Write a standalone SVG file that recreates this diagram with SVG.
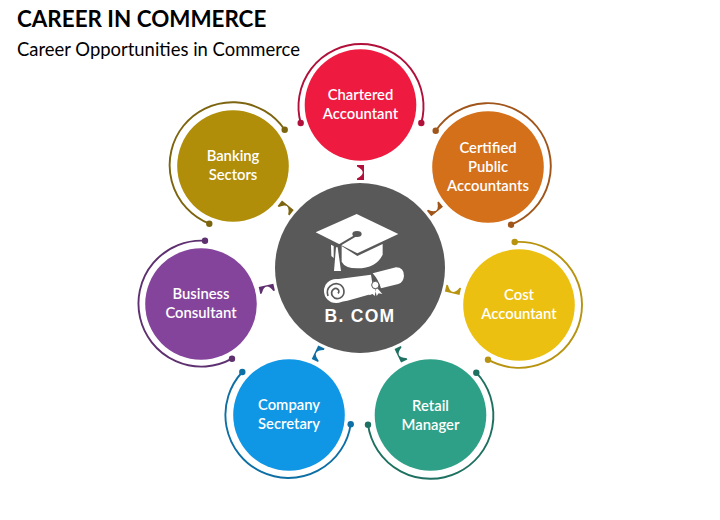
<svg xmlns="http://www.w3.org/2000/svg" width="720" height="520" viewBox="0 0 720 520">
<style>
text{font-family:"Lato","Carlito","Liberation Sans",sans-serif}
.l{font-size:14.8px;font-weight:600;fill:#fff;text-anchor:middle}
.a{fill:none;stroke-width:1.9}
.w{fill:#fff}
.d{fill:#595959}
</style>
<defs>
<path id="br" d="M-3.5,-7.5 L3.5,-7.5 L3.5,7.5 L-3.5,7.5 L-3.5,6 Q8,0 -3.5,-6 Z"/>
</defs>
<rect width="720" height="520" fill="#fff"/>
<text x="17" y="27" font-size="22.4" font-weight="700" fill="#000">CAREER IN COMMERCE</text>
<text x="17" y="56" font-size="18.45" fill="#000">Career Opportunities in Commerce</text>
<g id="connectors">
<use href="#br" transform="rotate(0 360 268) translate(360.5 172.5)" fill="#b0103a"/>
<use href="#br" transform="rotate(51.4 360 268) translate(360.5 172.5)" fill="#a0551a"/>
<use href="#br" transform="rotate(102.9 360 268) translate(360.5 172.5)" fill="#b8930f"/>
<use href="#br" transform="rotate(154.3 360 268) translate(360.5 172.5)" fill="#1e7060"/>
<use href="#br" transform="rotate(205.7 360 268) translate(360.5 172.5)" fill="#0e6fa5"/>
<use href="#br" transform="rotate(257.1 360 268) translate(360.5 172.5)" fill="#5e3070"/>
<use href="#br" transform="rotate(308.6 360 268) translate(360.5 172.5)" fill="#7d6510"/>
</g>
<g id="node-chartered">
<path class="a" stroke="#b0103a" d="M300.7,123 A62.5,62.5 0 1 1 421.3,123"/>
<circle cx="300.7" cy="123" r="3.2" fill="#b0103a"/><circle cx="421.3" cy="123" r="3.2" fill="#b0103a"/>
<circle cx="360.5" cy="105" r="55.8" fill="#ee1a40"/>
<text class="l" x="360.5" y="100">Chartered</text><text class="l" x="360.5" y="119">Accountant</text>
</g>
<g id="node-certified">
<path class="a" stroke="#a0551a" d="M435.7,130.7 A63,63 0 1 1 511,224.7"/>
<circle cx="435.7" cy="130.7" r="3.2" fill="#a0551a"/><circle cx="511" cy="224.7" r="3.2" fill="#a0551a"/>
<circle cx="488" cy="167" r="55.8" fill="#d4701a"/>
<text class="l" x="488" y="153">Certified</text><text class="l" x="488" y="172">Public</text><text class="l" x="488" y="191">Accountants</text>
</g>
<g id="node-cost">
<path class="a" stroke="#b8930f" d="M514.7,242 A63,63 0 1 1 488,359.7"/>
<circle cx="514.7" cy="242" r="3.2" fill="#b8930f"/><circle cx="488" cy="359.7" r="3.2" fill="#b8930f"/>
<circle cx="519" cy="305" r="55.8" fill="#ecc010"/>
<text class="l" x="519" y="300">Cost</text><text class="l" x="519" y="319">Accountant</text>
</g>
<g id="node-retail">
<path class="a" stroke="#1e7060" d="M476.3,372.7 A63,63 0 1 1 368,424.7"/>
<circle cx="476.3" cy="372.7" r="3.2" fill="#1e7060"/><circle cx="368" cy="424.7" r="3.2" fill="#1e7060"/>
<circle cx="430.5" cy="415" r="55.8" fill="#2ea087"/>
<text class="l" x="430.5" y="411">Retail</text><text class="l" x="430.5" y="430">Manager</text>
</g>
<g id="node-company">
<path class="a" stroke="#0e6fa5" d="M350.7,424.3 A63,63 0 1 1 242.3,372"/>
<circle cx="350.7" cy="424.3" r="3.2" fill="#0e6fa5"/><circle cx="242.3" cy="372" r="3.2" fill="#0e6fa5"/>
<circle cx="289" cy="415" r="55.8" fill="#0f96e4"/>
<text class="l" x="289" y="410">Company</text><text class="l" x="289" y="429">Secretary</text>
</g>
<g id="node-business">
<path class="a" stroke="#5e3070" d="M232,358.7 A63,63 0 1 1 205,240.7"/>
<circle cx="232" cy="358.7" r="3.2" fill="#5e3070"/><circle cx="205" cy="240.7" r="3.2" fill="#5e3070"/>
<circle cx="201" cy="304" r="55.8" fill="#84449c"/>
<text class="l" x="201" y="299">Business</text><text class="l" x="201" y="318">Consultant</text>
</g>
<g id="node-banking">
<path class="a" stroke="#7d6510" d="M209.3,223.7 A63,63 0 1 1 284.7,129.7"/>
<circle cx="209.3" cy="223.7" r="3.2" fill="#7d6510"/><circle cx="284.7" cy="129.7" r="3.2" fill="#7d6510"/>
<circle cx="233" cy="166" r="55.8" fill="#b08e0a"/>
<text class="l" x="233" y="161">Banking</text><text class="l" x="233" y="180">Sectors</text>
</g>
<g id="node-center">
<circle cx="360" cy="268" r="85" fill="#595959"/>
<g transform="translate(270 160) scale(.3333)">
<path class="w" d="M260,162 L385,222 L262,280 L137,217 Z"/>
<path d="M197,262 L262,224" stroke="#595959" stroke-width="6" fill="none"/>
<ellipse cx="261" cy="222" rx="14" ry="9" class="d"/>
<path class="w" d="M215,258 L262,288 L338,252 L338,284 Q318,325 262,325 Q225,325 215,305 Z"/>
<path class="w" d="M183,254 L191,258 L191,294 L184,288 Z"/>
<path class="w" d="M198,262 L203,262 L213,333 L192,333 Z"/>
<path class="w" d="M200,358 L303,344 L312,400 L232,422 L198,428 Z"/>
<path class="w" d="M308,340 L378,322 Q402,322 402,348 Q400,368 385,372 L333,385 Q326,360 308,340 Z"/>
<circle cx="198" cy="393" r="36" class="w"/>
<path d="M174,408 C165,382 190,368 205,372 C225,378 228,405 210,414 C190,422 178,400 190,388 C200,380 212,392 204,400" fill="none" stroke="#595959" stroke-width="5"/>
<path class="w" d="M310,385 L296,406 L308,402 L314,408 L318,390 Z M322,385 L337,402 L326,400 L320,408 L316,390 Z"/>
<circle cx="316" cy="375" r="11" class="w" stroke="#595959" stroke-width="3"/>
</g>
<text x="360" y="321.5" font-size="17.5" font-weight="700" fill="#fff" text-anchor="middle" letter-spacing="1.3" style="font-family:'Liberation Sans',sans-serif">B. COM</text>
</g>
</svg>
